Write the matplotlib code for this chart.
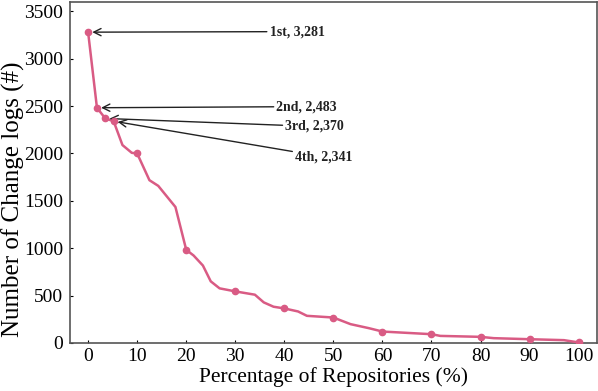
import matplotlib
matplotlib.use("Agg")
import matplotlib.pyplot as plt

plt.rcParams['font.family'] = ['Liberation Serif', 'DejaVu Serif']

# percentage of repositories (%) vs number of change logs
pct = [0, 1.8, 3.5, 5.2, 7, 8.9, 10, 12.5, 14.3, 17.8, 20, 21.5, 23.4, 25,
       26.8, 30, 34, 35.8, 37.8, 40, 42.8, 44.6, 50, 53.5, 57.2, 60, 65,
       70, 71.8, 80, 82.7, 90, 97, 100]
logs = [3281, 2483, 2370, 2341, 2089, 2007, 2000, 1718, 1658, 1435, 983, 923,
        817, 650, 576, 544, 509, 428, 382, 364, 332, 286, 268, 198, 156, 120,
        106, 92, 74, 64, 50, 39, 29, 5]
marker_pct = [0, 1.8, 3.5, 5.2, 10, 20, 30, 40, 50, 60, 70, 80, 90, 100]

top_labels = ['1st, 3,281', '2nd, 2,483', '3rd, 2,370', '4th, 2,341']
top_pct = [0, 1.8, 3.5, 5.2]
top_vals = [3281, 2483, 2370, 2341]
label_pos = [(37, 3287), (38.4, 2495), (40.2, 2285), (42.2, 1965)]

LINE = '#D95B84'
SPINE = '#555555'

fig = plt.figure(figsize=(5.98, 3.91), dpi=100)
ax = fig.add_axes([0.117, 0.123, 0.881, 0.872])

ax.plot(pct, logs, color=LINE, lw=1.8, zorder=3)
mk_vals = [logs[pct.index(p)] for p in marker_pct]
ax.plot(marker_pct, mk_vals, 'o', color=LINE, ms=4.5, zorder=4)

for lab, px, py, (tx, ty) in zip(top_labels, top_pct, top_vals, label_pos):
    ax.annotate(lab, xy=(px, py), xytext=(tx, ty), ha='left', va='center',
                fontsize=10, fontweight='bold', color='#222222',
                arrowprops=dict(arrowstyle='->', color='#222222', lw=1.0,
                                mutation_scale=13, shrinkA=0, shrinkB=3))

ax.set_xlim(-3.7, 103.7)
ax.set_ylim(0, 3600)
ax.set_xticks(range(0, 101, 10))
ax.set_yticks(range(0, 3501, 500))
ax.tick_params(direction='in', length=2, width=0.8, labelsize=14,
               colors='black')
ax.tick_params(axis='y', pad=5)
for s in ax.spines.values():
    s.set_color(SPINE)
    s.set_linewidth(1.2)

ax.set_xlabel('Percentage of Repositories (%)', fontsize=15.5, labelpad=2)
ax.set_ylabel('Number of Change logs (#)', fontsize=18)
ax.yaxis.set_label_coords(-0.085, 0.42)

fig.savefig('out.png', dpi=100)
